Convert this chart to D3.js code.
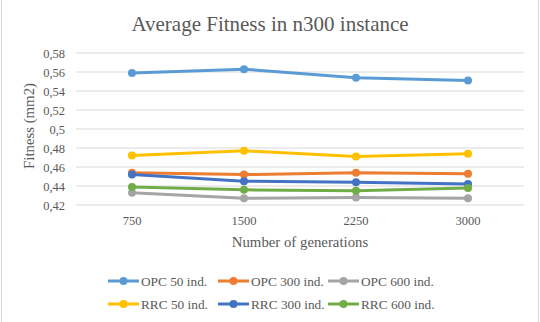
<!DOCTYPE html>
<html>
<head>
<meta charset="utf-8">
<script src="https://cdn.jsdelivr.net/npm/d3@7"></script>
<style>
  body { margin: 0; background: #fff; }
  text { font-family: "Liberation Serif", "Times New Roman", serif; fill: #595959; }
</style>
</head>
<body>
<div id="chart"></div>
<script>
// categories on the x axis
var generations = ["750", "1500", "2250", "3000"];

// y axis ticks
var yTicks = [0.42, 0.44, 0.46, 0.48, 0.5, 0.52, 0.54, 0.56, 0.58];

// series names and values
var seriesNames = ["OPC 50 ind.", "OPC 300 ind.", "OPC 600 ind.", "RRC 50 ind.", "RRC 300 ind.", "RRC 600 ind."];
var opc50 = [0.559, 0.563, 0.554, 0.551];
var opc300 = [0.454, 0.452, 0.454, 0.453];
var opc600 = [0.433, 0.427, 0.428, 0.427];
var rrc50 = [0.472, 0.477, 0.471, 0.474];
var rrc300 = [0.452, 0.445, 0.444, 0.442];
var rrc600 = [0.439, 0.436, 0.435, 0.438];
var seriesColors = ["#5B9BD5", "#ED7D31", "#A5A5A5", "#FFC000", "#4472C4", "#70AD47"];

window.onload = function() {
  var w = 540, h = 322;
  var margin = {left: 76, right: 16, top: 53, bottom: 117};

  var svg = d3.select("#chart").append("svg")
    .attr("width", w)
    .attr("height", h);

  // chart border (only sides visible)
  svg.append("rect")
    .attr("x", 1.5).attr("y", -2)
    .attr("width", 537).attr("height", h + 4)
    .attr("fill", "none")
    .attr("stroke", "#d9d9d9");

  var x = d3.scaleBand()
    .domain(generations)
    .range([margin.left, w - margin.right]);

  var y = d3.scaleLinear()
    .domain([0.42, 0.58])
    .range([h - margin.bottom, margin.top]);

  // gridlines
  svg.append("g").selectAll("line")
    .data(yTicks)
    .enter().append("line")
    .attr("x1", margin.left)
    .attr("x2", w - margin.right)
    .attr("y1", function(d) { return y(d); })
    .attr("y2", function(d) { return y(d); })
    .attr("stroke", "#d9d9d9")
    .attr("stroke-width", 1);

  // y axis labels
  var yAxis = svg.append("g")
    .attr("transform", "translate(" + margin.left + ",0)")
    .call(d3.axisLeft(y).tickValues(yTicks).tickSize(0).tickPadding(11)
      .tickFormat(function(d) { return String(+d.toFixed(2)).replace(".", ","); }));
  yAxis.select(".domain").remove();
  yAxis.selectAll("text").style("font-size", "12.5px").style("font-family", "Liberation Serif").attr("fill", "#595959");

  // x axis labels
  var xAxis = svg.append("g")
    .attr("transform", "translate(0," + (h - margin.bottom) + ")")
    .call(d3.axisBottom(x).tickSize(0).tickPadding(11));
  xAxis.select(".domain").remove();
  xAxis.selectAll("text").style("font-size", "12.5px").style("font-family", "Liberation Serif").attr("fill", "#595959");

  // title
  svg.append("text")
    .attr("x", 270)
    .attr("y", 31)
    .attr("text-anchor", "middle")
    .style("font-size", "21px")
    .text("Average Fitness in n300 instance");

  // axis titles
  svg.append("text")
    .attr("x", 300)
    .attr("y", 247)
    .attr("text-anchor", "middle")
    .style("font-size", "14.8px")
    .text("Number of generations");

  svg.append("text")
    .attr("transform", "translate(34,126) rotate(-90)")
    .attr("text-anchor", "middle")
    .style("font-size", "14.8px")
    .text("Fitness (mm2)");

  var allSeries = [opc50, opc300, opc600, rrc50, rrc300, rrc600];
  var line = d3.line()
    .x(function(d, i) { return x(generations[i]) + x.bandwidth() / 2; })
    .y(function(d) { return y(d); });

  allSeries.forEach(function(vals, s) {
    var g = svg.append("g");
    g.append("path")
      .datum(vals)
      .attr("d", line)
      .attr("fill", "none")
      .attr("stroke", seriesColors[s])
      .attr("stroke-width", 3)
      .attr("stroke-linejoin", "round")
      .attr("stroke-linecap", "round");
    g.selectAll("circle")
      .data(vals)
      .enter().append("circle")
      .attr("cx", function(d, i) { return x(generations[i]) + x.bandwidth() / 2; })
      .attr("cy", function(d) { return y(d); })
      .attr("r", 4)
      .attr("fill", seriesColors[s]);
  });

  // legend, 3 per row
  var legend = svg.append("g");
  seriesNames.forEach(function(name, i) {
    var lx = 108 + (i % 3) * 110;
    var ly = 281 + Math.floor(i / 3) * 23;
    var item = legend.append("g").attr("transform", "translate(" + lx + "," + ly + ")");
    item.append("line")
      .attr("x1", 0).attr("x2", 31)
      .attr("y1", 0).attr("y2", 0)
      .attr("stroke", seriesColors[i])
      .attr("stroke-width", 3);
    item.append("circle")
      .attr("cx", 15.5).attr("cy", 0).attr("r", 4)
      .attr("fill", seriesColors[i]);
    item.append("text")
      .attr("x", 33)
      .attr("y", 4.5)
      .style("font-size", "13.3px")
      .text(name);
  });
};
</script>
</body>
</html>
